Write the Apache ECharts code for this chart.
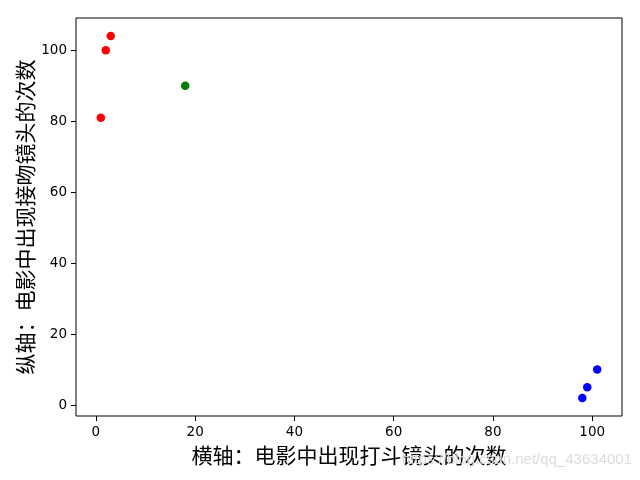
<!DOCTYPE html>
<html>
<head>
<meta charset="utf-8">
<script src="https://cdn.jsdelivr.net/npm/echarts@6/dist/echarts.min.js"></script>
<style>
html, body { margin: 0; padding: 0; background: #fff; }
#app { width: 640px; height: 480px; }
</style>
</head>
<body>
<div id="app"></div>
<script>
// 三类电影：打斗镜头次数, 接吻镜头次数
const redPoints = [[1, 81], [2, 100], [3, 104]];
const greenPoints = [[18, 90]];
const bluePoints = [[98, 2], [99, 5], [101, 10]];
const xTicks = [0, 20, 40, 60, 80, 100];
const yTicks = [0, 20, 40, 60, 80, 100];
const xName = '横轴：电影中出现打斗镜头的次数';
const yName = '纵轴：电影中出现接吻镜头的次数';

const myChart = echarts.init(document.getElementById('app'));

const tickFont = {
    color: '#000',
    fontFamily: 'DejaVu Sans',
    fontSize: 13.5
};
const nameFont = {
    color: '#000',
    fontFamily: 'Noto Sans CJK SC',
    fontSize: 21
};

function scatter(data, color) {
    return {
        type: 'scatter',
        data: data,
        symbolSize: 8.5,
        itemStyle: { color: color, opacity: 1 },
        animation: false
    };
}

let option = {
    animation: false,
    grid: {
        left: 76,
        right: 18,
        top: 18,
        bottom: 64,
        show: true,
        borderColor: '#000',
        borderWidth: 1
    },
    xAxis: {
        type: 'value',
        min: -4,
        max: 106,
        name: xName,
        nameLocation: 'middle',
        nameGap: 29,
        nameTextStyle: nameFont,
        axisLine: { show: false, onZero: false },
        splitLine: { show: false },
        axisTick: {
            show: true,
            length: 5,
            customValues: xTicks,
            lineStyle: { color: '#000' }
        },
        axisLabel: Object.assign({ margin: 9, customValues: xTicks }, tickFont)
    },
    yAxis: {
        type: 'value',
        min: -3.1,
        max: 109.1,
        name: yName,
        nameLocation: 'middle',
        nameGap: 40,
        nameMoveOverlap: false,
        nameTextStyle: nameFont,
        axisLine: { show: false, onZero: false },
        splitLine: { show: false },
        axisTick: {
            show: true,
            length: 5,
            customValues: yTicks,
            lineStyle: { color: '#000' }
        },
        axisLabel: Object.assign({ margin: 9, customValues: yTicks }, tickFont)
    },
    graphic: [{
        type: 'text',
        right: 8,
        top: 452,
        style: {
            text: 'https://blog.csdn.net/qq_43634001',
            fill: '#dcdcdc',
            font: '15px "Liberation Sans"'
        },
        z: 100
    }],
    series: [
        scatter(redPoints, '#ff0000'),
        scatter(greenPoints, '#008000'),
        scatter(bluePoints, '#0000ff')
    ]
};

myChart.setOption(option);
</script>
</body>
</html>
